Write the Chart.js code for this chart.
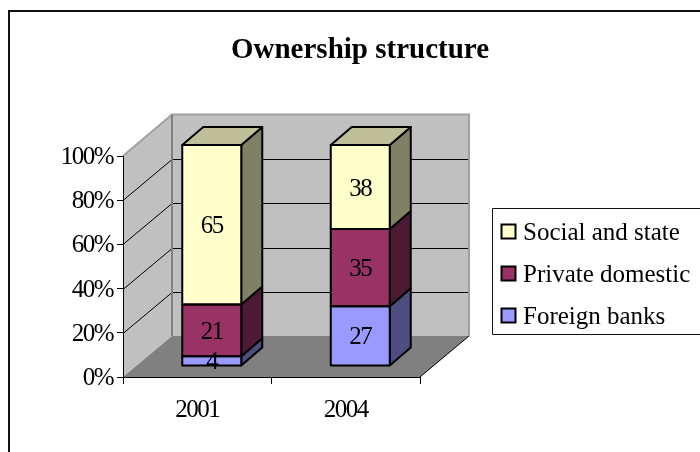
<!DOCTYPE html>
<html>
<head>
<meta charset="utf-8">
<title>Ownership structure</title>
<script src="https://cdn.jsdelivr.net/npm/chart.js@4"></script>
<style>
    html, body { margin: 0; padding: 0; background: #fff; overflow: hidden; }
    canvas { display: block; }
</style>
</head>
<body>
<canvas id="ownership-chart" width="700" height="452"></canvas>
<script>
const chartTitle = 'Ownership structure';
const categories = ['2001', '2004'];
const foreignBanks = [4, 27];
const privateDomestic = [21, 35];
const socialAndState = [65, 38];
const seriesNames = ['Foreign banks', 'Private domestic', 'Social and state'];
const tickValues = [0, 20, 40, 60, 80, 100];

const FONT = '"Liberation Serif", "Times New Roman", serif';
const NUMBER_SPACING = '-1.5px';     // the digits in the picture are tall and tight
const WALL_DX = 49, WALL_DY = -41;   // how far the back wall sits behind the axes
const BAR_DX = 14.5, BAR_DY = -11;   // bars stand a bit inside the floor
const DEPTH_DX = 21, DEPTH_DY = -18; // depth of each bar

// the chart is 100% stacked, the 2001 column only adds up to 90
const totals = categories.map((c, i) => foreignBanks[i] + privateDomestic[i] + socialAndState[i]);
const toShare = values => values.map((v, i) => v / totals[i] * 100);
const rawValues = [foreignBanks, privateDomestic, socialAndState];

function poly(ctx, points, fill, stroke, width) {
    ctx.beginPath();
    points.forEach((p, i) => i ? ctx.lineTo(p[0], p[1]) : ctx.moveTo(p[0], p[1]));
    ctx.closePath();
    if (fill) {
        ctx.fillStyle = fill;
        ctx.fill();
    }
    if (stroke) {
        ctx.strokeStyle = stroke;
        ctx.lineWidth = width;
        ctx.stroke();
    }
}

function line(ctx, points, color, width) {
    ctx.beginPath();
    points.forEach((p, i) => i ? ctx.lineTo(p[0], p[1]) : ctx.moveTo(p[0], p[1]));
    ctx.strokeStyle = color;
    ctx.lineWidth = width;
    ctx.stroke();
}

// Frame, title, legend, walls and floor go under the scales
const backdrop = {
    id: 'backdrop',
    beforeDraw(chart) {
        const { ctx, chartArea: a, scales: { y } } = chart;
        const top = a.top, bottom = a.bottom, left = a.left, right = a.right;
        ctx.save();
        ctx.fillStyle = '#fff';
        ctx.fillRect(0, 0, chart.width, chart.height);
        line(ctx, [[9, 452], [9, 11], [700, 11]], '#111', 2);

        ctx.fillStyle = '#000';
        ctx.font = 'bold 29px ' + FONT;
        ctx.textAlign = 'center';
        ctx.textBaseline = 'middle';
        ctx.fillText(chartTitle, 360, 51);

        // legend box runs off the right edge like in the picture
        line(ctx, [[700, 208.5], [492.5, 208.5], [492.5, 334.5], [700, 334.5]], '#111', 1);
        const rows = [232, 274, 316];
        chart.data.datasets.slice().reverse().forEach((ds, i) => {
            ctx.fillStyle = ds.backgroundColor;
            ctx.fillRect(501.5, rows[i] - 7.5, 14, 14);
            ctx.strokeStyle = '#000';
            ctx.lineWidth = 2;
            ctx.strokeRect(501.5, rows[i] - 7.5, 14, 14);
            ctx.fillStyle = '#000';
            ctx.font = '25px ' + FONT;
            ctx.textAlign = 'left';
            ctx.fillText(ds.label, 523, rows[i] + 1);
        });

        const backL = left + WALL_DX, backR = right + WALL_DX;
        const backT = top + WALL_DY - 0.5, backB = bottom + WALL_DY;
        poly(ctx, [[left, top], [backL, backT], [backL, backB], [left, bottom]], '#c0c0c0');
        poly(ctx, [[backL, backT], [backR, backT], [backR, backB], [backL, backB]], '#c0c0c0');
        poly(ctx, [[left, bottom], [right, bottom], [backR, backB], [backL, backB]], '#808080');

        // gridlines wrap from the side wall onto the back wall
        tickValues.slice(1, -1).forEach(v => {
            const py = Math.round(y.getPixelForValue(v)) + 0.5;
            line(ctx, [[left, py], [backL, py + WALL_DY], [backR, py + WALL_DY]], '#000', 1);
        });

        line(ctx, [[left, top], [backL, backT], [backR, backT], [backR, backB]], '#a0a0a0', 2);
        line(ctx, [[backL, backT], [backL, backB]], '#808080', 2);
        line(ctx, [[right, bottom], [backR, backB]], '#000', 1);
        ctx.restore();
        // stays on for the tick labels the scales draw next
        ctx.letterSpacing = NUMBER_SPACING;
    }
};

// Bars get shifted into the 3D box, side and top faces come from the bar elements
const box3d = {
    id: 'box3d',
    beforeDatasetsDraw(chart) {
        const ctx = chart.ctx;
        ctx.save();
        ctx.translate(BAR_DX, BAR_DY);
        ctx.lineJoin = 'round';
        chart.data.datasets.forEach((ds, d) => {
            chart.getDatasetMeta(d).data.forEach(bar => {
                const l = bar.x - bar.width / 2, r = bar.x + bar.width / 2;
                poly(ctx, [[r, bar.base], [r + DEPTH_DX, bar.base + DEPTH_DY],
                    [r + DEPTH_DX, bar.y + DEPTH_DY], [r, bar.y]], ds.sideColor, '#000', 2);
                if (d === chart.data.datasets.length - 1) {
                    poly(ctx, [[l, bar.y], [r, bar.y], [r + DEPTH_DX, bar.y + DEPTH_DY],
                        [l + DEPTH_DX, bar.y + DEPTH_DY]], ds.topColor, '#000', 2);
                }
            });
        });
    },
    afterDatasetsDraw(chart) {
        const ctx = chart.ctx;
        chart.data.datasets.forEach((ds, d) => {
            chart.getDatasetMeta(d).data.forEach(bar => {
                ctx.strokeStyle = '#000';
                ctx.lineWidth = 2;
                ctx.strokeRect(bar.x - bar.width / 2, bar.y, bar.width, bar.base - bar.y);
            });
        });
        ctx.fillStyle = '#000';
        ctx.font = '25px ' + FONT;
        ctx.textAlign = 'center';
        ctx.textBaseline = 'middle';
        chart.data.datasets.forEach((ds, d) => {
            chart.getDatasetMeta(d).data.forEach((bar, i) => {
                ctx.fillText(rawValues[d][i], bar.x, (bar.y + bar.base) / 2 + 2);
            });
        });
        ctx.restore();
    }
};

const barStyle = { borderWidth: 0, barThickness: 59, clip: false };

new Chart(document.getElementById('ownership-chart'), {
    type: 'bar',
    data: {
        labels: categories,
        datasets: [
            { ...barStyle, label: seriesNames[0], data: toShare(foreignBanks), backgroundColor: '#9999ff', sideColor: '#4d4d80', topColor: '#bfbfff' },
            { ...barStyle, label: seriesNames[1], data: toShare(privateDomestic), backgroundColor: '#993366', sideColor: '#4d1a33', topColor: '#b2668c' },
            { ...barStyle, label: seriesNames[2], data: toShare(socialAndState), backgroundColor: '#ffffcc', sideColor: '#808066', topColor: '#bfbf99' }
        ]
    },
    options: {
        responsive: false,
        animation: false,
        layout: { padding: { left: 0, top: 156, right: 280, bottom: 0 } },
        plugins: {
            legend: { display: false },
            title: { display: false },
            tooltip: { enabled: false }
        },
        scales: {
            x: {
                stacked: true,
                afterFit: s => { s.height = 75; },
                border: { color: '#000', width: 1 },
                grid: { drawOnChartArea: false, color: '#000', tickLength: 7 },
                ticks: { color: '#000', font: { family: FONT, size: 25 }, padding: 11, maxRotation: 0 }
            },
            y: {
                stacked: true,
                min: 0,
                max: 100,
                afterFit: s => { s.width = 123; },
                afterBuildTicks: s => { s.ticks = tickValues.map(v => ({ value: v })); },
                border: { color: '#000', width: 1 },
                grid: { drawOnChartArea: false, color: '#000', tickLength: 6 },
                ticks: { color: '#000', font: { family: FONT, size: 25 }, padding: 4, labelOffset: 1.5, callback: v => v + '%' }
            }
        }
    },
    plugins: [backdrop, box3d]
});
</script>
</body>
</html>
